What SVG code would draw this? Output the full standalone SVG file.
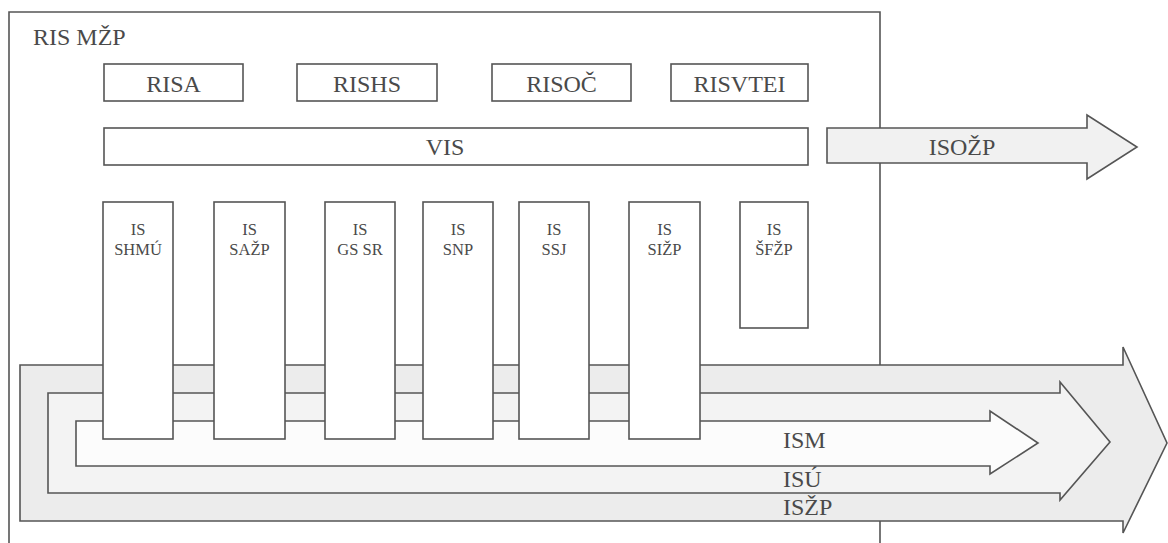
<svg xmlns="http://www.w3.org/2000/svg" width="1168" height="543" viewBox="0 0 1168 543">
<style>
.ln{fill:none;stroke:#555;stroke-width:1.6}
.bx{fill:#fff;stroke:#555;stroke-width:1.6}
.t{fill:#4a4a4a}
.big{font-size:24px}
.sm{font-size:16.5px}
.c{text-anchor:middle}
</style>
<rect width="1168" height="543" fill="#fff"/>
<g font-family="Liberation Serif, Times New Roman, serif">
<g id="ris-mzp">
<path class="ln" d="M9,543 V12 H880 V543"/>
<text class="t big" x="33" y="45">RIS MŽP</text>
</g>
<g id="risa"><rect class="bx" x="104" y="64" width="139" height="37"/><text class="t big c" x="173.5" y="92">RISA</text></g>
<g id="rishs"><rect class="bx" x="297" y="64" width="140" height="37"/><text class="t big c" x="367" y="92">RISHS</text></g>
<g id="risoc"><rect class="bx" x="492" y="64" width="139" height="37"/><text class="t big c" x="561.5" y="92">RISOČ</text></g>
<g id="risvtei"><rect class="bx" x="671" y="64" width="137" height="37"/><text class="t big c" x="739.5" y="92">RISVTEI</text></g>
<g id="vis"><rect class="bx" x="104" y="128" width="704" height="37"/><text class="t big c" x="445" y="155">VIS</text></g>
<g id="connectors">
<g id="isozp">
<path d="M827,128 H1087 V115 L1137,147 L1087,179 V163 H827 Z" fill="#f1f1f1" stroke="#555" stroke-width="1.6"/>
<text class="t big c" x="962" y="155">ISOŽP</text>
</g>
<g id="iszp">
<path d="M1123,365 H20 V521 H1123 V533 L1167,443 L1123,347 Z" fill="#ececec" stroke="#555" stroke-width="1.6"/>
</g>
<g id="isu">
<path d="M1060,393 H48 V493 H1060 V500 L1110,442 L1060,382 Z" fill="#f3f3f3" stroke="#555" stroke-width="1.6"/>
</g>
<g id="ism">
<path d="M990,421 H76 V466 H990 V474 L1038,443 L990,411 Z" fill="#fcfcfc" stroke="#555" stroke-width="1.6"/>
</g>
</g>
<g id="is-shmu"><rect class="bx" x="103" y="202" width="70" height="237"/><text class="t sm c" x="138" y="235">IS</text><text class="t sm c" x="138" y="255">SHMÚ</text></g>
<g id="is-sazp"><rect class="bx" x="214" y="202" width="71" height="237"/><text class="t sm c" x="249.5" y="235">IS</text><text class="t sm c" x="249.5" y="255">SAŽP</text></g>
<g id="is-gssr"><rect class="bx" x="325" y="202" width="70" height="237"/><text class="t sm c" x="360" y="235">IS</text><text class="t sm c" x="360" y="255">GS SR</text></g>
<g id="is-snp"><rect class="bx" x="423" y="202" width="70" height="237"/><text class="t sm c" x="458" y="235">IS</text><text class="t sm c" x="458" y="255">SNP</text></g>
<g id="is-ssj"><rect class="bx" x="519" y="202" width="70" height="237"/><text class="t sm c" x="554" y="235">IS</text><text class="t sm c" x="554" y="255">SSJ</text></g>
<g id="is-sizp"><rect class="bx" x="629" y="202" width="71" height="237"/><text class="t sm c" x="664.5" y="235">IS</text><text class="t sm c" x="664.5" y="255">SIŽP</text></g>
<g id="is-sfzp"><rect class="bx" x="740" y="202" width="68" height="126"/><text class="t sm c" x="774" y="235">IS</text><text class="t sm c" x="774" y="255">ŠFŽP</text></g>
<g id="labels">
<text class="t big" x="783" y="448">ISM</text>
<text class="t big" x="783" y="487">ISÚ</text>
<text class="t big" x="783" y="515">ISŽP</text>
</g>
</g>
</svg>
